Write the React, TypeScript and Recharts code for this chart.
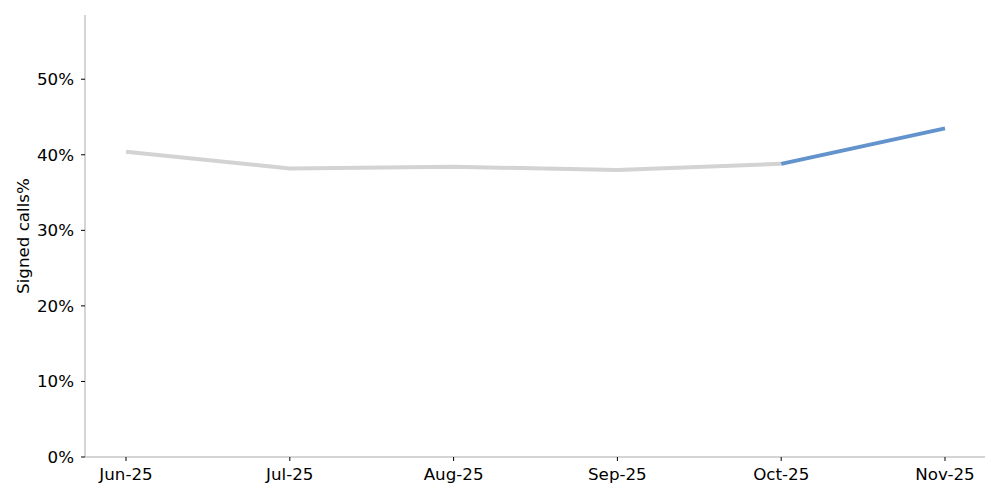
import React from 'react';
import { LineChart, Line, XAxis, YAxis, Label } from 'recharts';

const months = ['Jun-25', 'Jul-25', 'Aug-25', 'Sep-25', 'Oct-25', 'Nov-25'];
const pastValues = [0.404, 0.382, 0.384, 0.380, 0.388, null];
const latestValues = [null, null, null, null, 0.388, 0.435];
const yTicks = [0, 0.1, 0.2, 0.3, 0.4, 0.5];

const data = months.map((m, i) => ({ month: m, past: pastValues[i], latest: latestValues[i] }));

const font = { fontFamily: 'DejaVu Sans', fontSize: 16.7, fill: '#000' };

const YLabel = (props: any) => {
  const vb = props.viewBox;
  const cy = vb.y + vb.height / 2;
  return (
    <text x={29} y={cy} transform={`rotate(-90, 29, ${cy})`} textAnchor="middle" style={font}>
      Signed calls%
    </text>
  );
};

const App = () => {
  return (
    <div style={{ position: 'absolute', left: 0, top: 0, background: '#fff' }}>
      <LineChart width={1000} height={500} data={data} margin={{ top: 15, right: 15, bottom: 0, left: 0 }}>
        <XAxis
          dataKey="month"
          padding={{ left: 41, right: 40 }}
          height={43}
          tick={font}
          tickSize={4}
          tickMargin={7}
          axisLine={{ stroke: '#aaaaaa' }}
          tickLine={{ stroke: '#000' }}
        />
        <YAxis
          width={85}
          domain={[0, 0.585]}
          ticks={yTicks}
          tickFormatter={(v: number) => `${Math.round(v * 100)}%`}
          tick={font}
          tickSize={4}
          tickMargin={7}
          axisLine={{ stroke: '#aaaaaa' }}
          tickLine={{ stroke: '#000' }}
        >
          <Label content={<YLabel />} />
        </YAxis>
        <Line
          dataKey="past"
          stroke="#d3d3d3"
          strokeWidth={4}
          dot={false}
          activeDot={false}
          isAnimationActive={false}
        />
        <Line
          dataKey="latest"
          stroke="#6393cc"
          strokeWidth={4}
          dot={false}
          activeDot={false}
          isAnimationActive={false}
        />
      </LineChart>
    </div>
  );
};

export default App;
